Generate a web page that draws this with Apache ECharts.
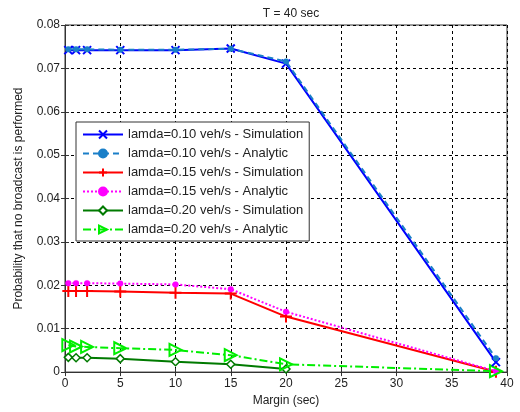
<!doctype html>
<html lang="en">
<head>
  <meta charset="UTF-8">
  <title>T = 40 sec</title>
  <script src="https://cdn.jsdelivr.net/npm/echarts@6/dist/echarts.min.js"></script>
  <style>
    html, body { margin: 0; padding: 0; background: #fff; }
    #chart { width: 520px; height: 412px; }
  </style>
</head>
<body>
<div id="chart"></div>
<script>
  // margin values (sec) on the x axis
  var margins = [0.3, 1, 2, 5, 10, 15, 20, 39];

  var blueSim = [0.0742, 0.0742, 0.0742, 0.0742, 0.0742, 0.0746, 0.0711, 0.0023];
  var blueAna = [0.0744, 0.0744, 0.0744, 0.0743, 0.0743, 0.0745, 0.0716, 0.0032];
  var redSim  = [0.0187, 0.0187, 0.0187, 0.0186, 0.0183, 0.0181, 0.0128, 0.0001];
  var magAna  = [0.0205, 0.0205, 0.0205, 0.0204, 0.0202, 0.0191, 0.0139, 0.0002];
  var dgSim   = [0.0034, 0.0033, 0.0033, 0.0031, 0.0024, 0.0018, 0.0007, null];
  var lgAna   = [0.0062, 0.0059, 0.0058, 0.0055, 0.0051, 0.0039, 0.0018, 0.0002];

  var names = [
    'lamda=0.10 veh/s - Simulation',
    'lamda=0.10 veh/s - Analytic',
    'lamda=0.15 veh/s - Simulation',
    'lamda=0.15 veh/s - Analytic',
    'lamda=0.20 veh/s - Simulation',
    'lamda=0.20 veh/s - Analytic'
  ];

  var xTicks = [0, 5, 10, 15, 20, 25, 30, 35, 40];
  var yTicks = [0, 0.01, 0.02, 0.03, 0.04, 0.05, 0.06, 0.07, 0.08];

  function pairs(vals) {
    return margins.map(function (m, i) { return [m, vals[i]]; });
  }

  var FONT = 'Liberation Sans';

  function mk(name, vals, color, opt) {
    return {
      name: name,
      type: 'line',
      data: pairs(vals),
      symbol: opt.symbol,
      symbolSize: opt.size,
      symbolRotate: opt.rotate || 0,
      showAllSymbol: true,
      connectNulls: false,
      lineStyle: { color: color, width: opt.width || 2, type: opt.dash || 'solid' },
      itemStyle: {
        color: opt.fill || color,
        borderColor: color,
        borderWidth: opt.bw || 1.5
      },
      z: opt.z || 2
    };
  }

  var tickStyle = { show: true, inside: true, length: 4, lineStyle: { color: '#333' } };

  var chart = echarts.init(document.getElementById('chart'));
  var option = {
    animation: false,
    title: {
      text: 'T = 40 sec',
      left: 286,
      textAlign: 'center',
      top: 3,
      textStyle: { fontFamily: FONT, fontSize: 12, fontWeight: 'normal', color: '#222' }
    },
    grid: {
      left: 65, right: 13, top: 25, bottom: 39,
      show: true, borderColor: '#333', borderWidth: 1, backgroundColor: '#fff'
    },
    legend: {
      orient: 'vertical',
      left: 76,
      top: 122,
      padding: [6, 6, 5, 6],
      itemWidth: 40,
      itemHeight: 10,
      itemGap: 6,
      backgroundColor: '#fff',
      borderColor: '#333',
      borderWidth: 1,
      textStyle: { fontFamily: FONT, fontSize: 13, color: '#222' },
      data: names
    },
    xAxis: [{
      type: 'value',
      min: 0, max: 40, interval: 5,
      name: 'Margin (sec)',
      nameLocation: 'middle',
      nameGap: 22,
      nameTextStyle: { fontFamily: FONT, fontSize: 12, color: '#222' },
      axisLine: { show: true, lineStyle: { color: '#333' } },
      axisTick: tickStyle,
      axisLabel: { fontFamily: FONT, fontSize: 12, color: '#222', margin: 6,
        customValues: xTicks },
      splitLine: { show: true, lineStyle: { color: '#000', type: [3, 3], width: 1 } }
    }, {
      type: 'value', position: 'top',
      min: 0, max: 40, interval: 5,
      axisLine: { show: false }, axisTick: tickStyle,
      axisLabel: { show: false }, splitLine: { show: false }
    }],
    yAxis: [{
      type: 'value',
      min: 0, max: 0.08, interval: 0.01,
      name: 'Probability that no broadcast is performed',
      nameLocation: 'middle',
      nameGap: 40,
      nameTextStyle: { fontFamily: FONT, fontSize: 12, color: '#222' },
      axisLine: { show: true, lineStyle: { color: '#333' } },
      axisTick: tickStyle,
      axisLabel: { fontFamily: FONT, fontSize: 12, color: '#222', margin: 5,
        customValues: yTicks,
        formatter: function (v) { return v === 0 ? '0' : v.toFixed(2); } },
      splitLine: { show: true, lineStyle: { color: '#000', type: [3, 3], width: 1 } }
    }, {
      type: 'value', position: 'right',
      min: 0, max: 0.08, interval: 0.01,
      axisLine: { show: false }, axisTick: tickStyle,
      axisLabel: { show: false }, splitLine: { show: false }
    }],
    series: [
      mk(names[0], blueSim, '#0000ff', { symbol: 'path://M0,0L10,10M10,0L0,10', size: 8, bw: 2, z: 3 }),
      mk(names[1], blueAna, '#1a7fc8', { symbol: 'circle', size: 6, dash: [6, 4], bw: 0.1, z: 4 }),
      mk(names[2], redSim, '#ff0000', { symbol: 'path://M5,0L5,10M0,5L10,5', size: 12, bw: 2 }),
      mk(names[3], magAna, '#ff00ff', { symbol: 'circle', size: 6, dash: [2, 2], bw: 0.1 }),
      mk(names[4], dgSim, '#007a00', { symbol: 'diamond', size: 8, fill: '#fff', bw: 1.5 }),
      mk(names[5], lgAna, '#00ee00', { symbol: 'triangle', rotate: -90, size: 12, fill: 'rgba(255,255,255,0)', dash: [8, 3, 2, 3], bw: 2 })
    ]
  };
  chart.setOption(option);
</script>
</body>
</html>
